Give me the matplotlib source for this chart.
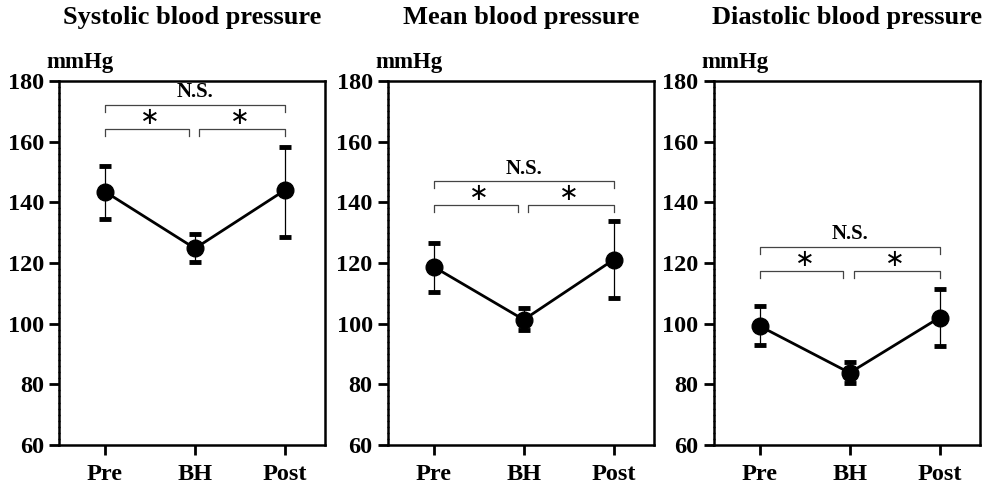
import matplotlib.pyplot as plt
import numpy as np

plt.rcParams['font.family'] = 'Liberation Serif'
plt.rcParams['font.weight'] = 'bold'

# dados
titles = ["Systolic blood pressure", "Mean blood pressure", "Diastolic blood pressure"]
groups = ["Pre", "BH", "Post"]
means = [[143.5, 124.8, 144.0],
         [118.7, 101.3, 121.1],
         [99.2, 83.8, 102.0]]
upper = [[152.0, 129.5, 158.3],
         [126.7, 105.0, 133.7],
         [105.8, 87.5, 111.3]]
lower = [[134.5, 120.2, 128.4],
         [110.5, 97.8, 108.6],
         [93.0, 80.5, 92.5]]
# altura dos colchetes de significância (par Pre-BH / BH-Post)
bracket_y = [164.2, 139.0, 117.3]
bracket_ns_gap = 8.0

x = np.arange(1, 4)

fig = plt.figure(figsize=(9.86, 4.92), dpi=100)
lefts = [0.060, 0.3935, 0.724]

for i in range(3):
    ax = fig.add_axes([lefts[i], 0.0955, 0.270, 0.740])
    m = np.array(means[i])
    err = [m - np.array(lower[i]), np.array(upper[i]) - m]
    ax.errorbar(x, m, yerr=err, fmt="none", ecolor="black", elinewidth=0.9,
                capsize=4.5, capthick=3.5, zorder=2)
    ax.plot(x, m, color="black", linewidth=2, marker="o", markersize=12, zorder=3)

    # colchetes
    by = bracket_y[i]
    leg = 2.3
    gc = "#444444"
    ax.plot([1, 1, 2 - 0.07, 2 - 0.07], [by - leg, by, by, by - leg], color=gc, lw=0.9)
    ax.plot([2 + 0.05, 2 + 0.05, 3, 3], [by - leg, by, by, by - leg], color=gc, lw=0.9)
    for xs in (1.5, 2.5):
        ax.text(xs, by + 4.0, "\u2217", ha="center", va="center", fontsize=17,
                fontweight="normal", family="DejaVu Sans")
    ny = by + bracket_ns_gap
    ax.plot([1, 1, 3, 3], [ny - leg, ny, ny, ny - leg], color=gc, lw=0.9)
    ax.text(2, ny + 0.8, "N.S.", ha="center", va="bottom", fontsize=15, fontweight="bold")

    ax.set_xlim(0.49, 3.45)
    ax.set_ylim(60, 180)
    ax.set_yticks(np.arange(60, 181, 20))
    ax.set_yticks(np.arange(60, 181, 2), minor=True)
    ax.set_xticks(x)
    ax.set_xticklabels(groups)
    ax.tick_params(axis="both", which="major", labelsize=17.5, width=2, length=7, direction="out")
    ax.tick_params(axis="x", which="major", pad=7)
    ax.tick_params(axis="y", which="major", pad=4)
    ax.tick_params(axis="y", which="minor", length=2, width=1, direction="inout")
    for s in ax.spines.values():
        s.set_linewidth(1.8)

    ax.text(0.5, 1.173, titles[i], transform=ax.transAxes, ha="center", va="center",
            fontsize=19, fontweight="bold")
    ax.text(0.08, 1.05, "mmHg", transform=ax.transAxes, ha="center", va="center",
            fontsize=16.5, fontweight="bold")

fig.savefig("out.png", dpi=100)
